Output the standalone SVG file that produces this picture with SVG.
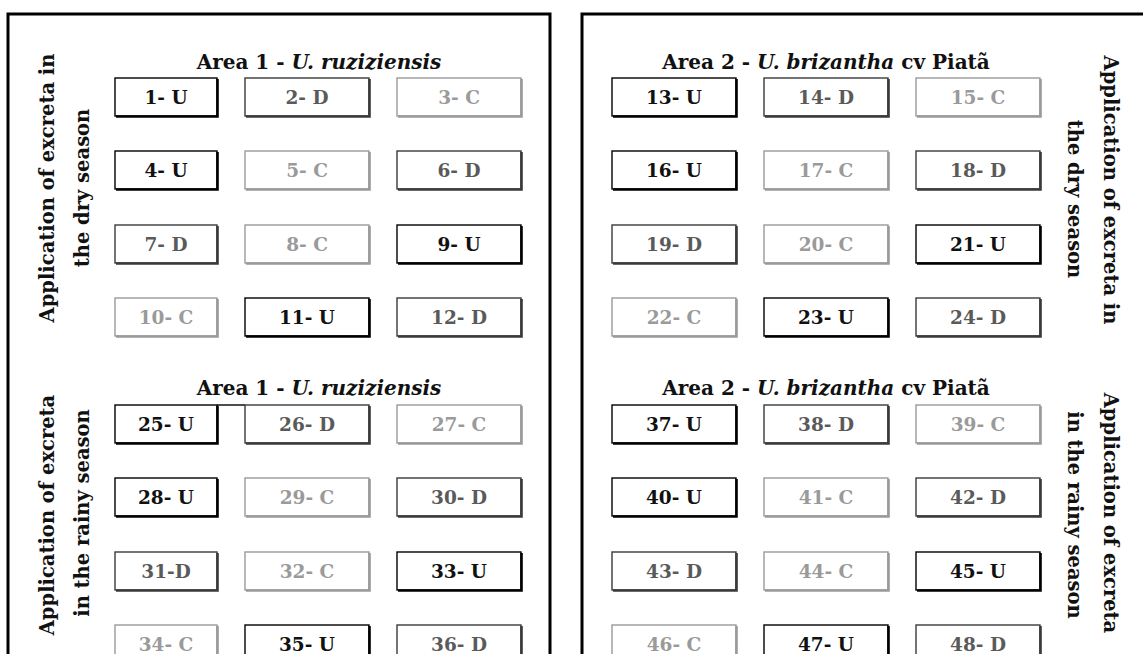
<svg xmlns="http://www.w3.org/2000/svg" width="1143" height="654" viewBox="0 0 1143 654">
<style>
text{font-family:"DejaVu Serif","Liberation Serif",serif;font-weight:bold}
.lbl{font-size:18.5px;text-anchor:middle}
.ttl{font-size:20px;text-anchor:middle;fill:#111}
.side{font-size:19.5px;text-anchor:middle;fill:#111}
.it{font-style:italic}
.frame{fill:none;stroke:#000;stroke-width:3}
.box{fill:#fff;stroke-width:1.4}
.sh{fill:none;stroke-width:2.6}
.U use{stroke:#000}.U text{fill:#111}
.D use{stroke:#3a3a3a}.D text{fill:#5a5a5a}
.C use{stroke:#9a9a9a}.C text{fill:#9a9a9a}
</style>
<defs>
<g id="bw"><rect class="box" x="0" y="0" width="102" height="38"/><path class="sh" d="M102.5,1V38.5H1"/></g>
<g id="bn"><rect class="box" x="0" y="0" width="124" height="38"/><path class="sh" d="M124.5,1V38.5H1"/></g>
</defs>
<rect x="0" y="0" width="1143" height="654" fill="#fff" stroke="none"/>
<g id="frames">
<path class="frame" d="M8,654V14H550V654"/>
<path class="frame" d="M582,654V14H1143"/>
</g>
<g id="titles">
<text class="ttl" x="319" y="69">Area 1 - <tspan class="it">U. ruziziensis</tspan></text>
<text class="ttl" x="826" y="69">Area 2 - <tspan class="it">U. brizantha</tspan> cv Piatã</text>
<text class="ttl" x="319" y="395">Area 1 - <tspan class="it">U. ruziziensis</tspan></text>
<text class="ttl" x="826" y="395">Area 2 - <tspan class="it">U. brizantha</tspan> cv Piatã</text>
</g>
<g id="side-labels">
<text class="side" transform="translate(54,188) rotate(-90)">Application of excreta in</text>
<text class="side" transform="translate(89,188) rotate(-90)">the dry season</text>
<text class="side" transform="translate(54,515) rotate(-90)">Application of excreta</text>
<text class="side" transform="translate(89,513) rotate(-90)">in the rainy season</text>
<text class="side" transform="translate(1104,190) rotate(90)">Application of excreta in</text>
<text class="side" transform="translate(1068,199) rotate(90)">the dry season</text>
<text class="side" transform="translate(1104,513) rotate(90)">Application of excreta</text>
<text class="side" transform="translate(1068,515) rotate(90)">in the rainy season</text>
</g>
<g id="connectors">
<line x1="217" y1="405" x2="245" y2="405" stroke="#000" stroke-width="1.4"/>
</g>
<g id="plots">
<g id="p1" class="U" transform="translate(115,78)"><use href="#bw"/><text class="lbl" x="51" y="26">1- U</text></g>
<g id="p2" class="D" transform="translate(245,78)"><use href="#bn"/><text class="lbl" x="62" y="26">2- D</text></g>
<g id="p3" class="C" transform="translate(397,78)"><use href="#bn"/><text class="lbl" x="62" y="26">3- C</text></g>
<g id="p4" class="U" transform="translate(115,151)"><use href="#bw"/><text class="lbl" x="51" y="26">4- U</text></g>
<g id="p5" class="C" transform="translate(245,151)"><use href="#bn"/><text class="lbl" x="62" y="26">5- C</text></g>
<g id="p6" class="D" transform="translate(397,151)"><use href="#bn"/><text class="lbl" x="62" y="26">6- D</text></g>
<g id="p7" class="D" transform="translate(115,225)"><use href="#bw"/><text class="lbl" x="51" y="26">7- D</text></g>
<g id="p8" class="C" transform="translate(245,225)"><use href="#bn"/><text class="lbl" x="62" y="26">8- C</text></g>
<g id="p9" class="U" transform="translate(397,225)"><use href="#bn"/><text class="lbl" x="62" y="26">9- U</text></g>
<g id="p10" class="C" transform="translate(115,298)"><use href="#bw"/><text class="lbl" x="51" y="26">10- C</text></g>
<g id="p11" class="U" transform="translate(245,298)"><use href="#bn"/><text class="lbl" x="62" y="26">11- U</text></g>
<g id="p12" class="D" transform="translate(397,298)"><use href="#bn"/><text class="lbl" x="62" y="26">12- D</text></g>

<g id="p25" class="U" transform="translate(115,405)"><use href="#bw"/><text class="lbl" x="51" y="26">25- U</text></g>
<g id="p26" class="D" transform="translate(245,405)"><use href="#bn"/><text class="lbl" x="62" y="26">26- D</text></g>
<g id="p27" class="C" transform="translate(397,405)"><use href="#bn"/><text class="lbl" x="62" y="26">27- C</text></g>
<g id="p28" class="U" transform="translate(115,478)"><use href="#bw"/><text class="lbl" x="51" y="26">28- U</text></g>
<g id="p29" class="C" transform="translate(245,478)"><use href="#bn"/><text class="lbl" x="62" y="26">29- C</text></g>
<g id="p30" class="D" transform="translate(397,478)"><use href="#bn"/><text class="lbl" x="62" y="26">30- D</text></g>
<g id="p31" class="D" transform="translate(115,552)"><use href="#bw"/><text class="lbl" x="51" y="26">31-D</text></g>
<g id="p32" class="C" transform="translate(245,552)"><use href="#bn"/><text class="lbl" x="62" y="26">32- C</text></g>
<g id="p33" class="U" transform="translate(397,552)"><use href="#bn"/><text class="lbl" x="62" y="26">33- U</text></g>
<g id="p34" class="C" transform="translate(115,625)"><use href="#bw"/><text class="lbl" x="51" y="26">34- C</text></g>
<g id="p35" class="U" transform="translate(245,625)"><use href="#bn"/><text class="lbl" x="62" y="26">35- U</text></g>
<g id="p36" class="D" transform="translate(397,625)"><use href="#bn"/><text class="lbl" x="62" y="26">36- D</text></g>

<g id="p13" class="U" transform="translate(612,78)"><use href="#bn"/><text class="lbl" x="62" y="26">13- U</text></g>
<g id="p14" class="D" transform="translate(764,78)"><use href="#bn"/><text class="lbl" x="62" y="26">14- D</text></g>
<g id="p15" class="C" transform="translate(916,78)"><use href="#bn"/><text class="lbl" x="62" y="26">15- C</text></g>
<g id="p16" class="U" transform="translate(612,151)"><use href="#bn"/><text class="lbl" x="62" y="26">16- U</text></g>
<g id="p17" class="C" transform="translate(764,151)"><use href="#bn"/><text class="lbl" x="62" y="26">17- C</text></g>
<g id="p18" class="D" transform="translate(916,151)"><use href="#bn"/><text class="lbl" x="62" y="26">18- D</text></g>
<g id="p19" class="D" transform="translate(612,225)"><use href="#bn"/><text class="lbl" x="62" y="26">19- D</text></g>
<g id="p20" class="C" transform="translate(764,225)"><use href="#bn"/><text class="lbl" x="62" y="26">20- C</text></g>
<g id="p21" class="U" transform="translate(916,225)"><use href="#bn"/><text class="lbl" x="62" y="26">21- U</text></g>
<g id="p22" class="C" transform="translate(612,298)"><use href="#bn"/><text class="lbl" x="62" y="26">22- C</text></g>
<g id="p23" class="U" transform="translate(764,298)"><use href="#bn"/><text class="lbl" x="62" y="26">23- U</text></g>
<g id="p24" class="D" transform="translate(916,298)"><use href="#bn"/><text class="lbl" x="62" y="26">24- D</text></g>

<g id="p37" class="U" transform="translate(612,405)"><use href="#bn"/><text class="lbl" x="62" y="26">37- U</text></g>
<g id="p38" class="D" transform="translate(764,405)"><use href="#bn"/><text class="lbl" x="62" y="26">38- D</text></g>
<g id="p39" class="C" transform="translate(916,405)"><use href="#bn"/><text class="lbl" x="62" y="26">39- C</text></g>
<g id="p40" class="U" transform="translate(612,478)"><use href="#bn"/><text class="lbl" x="62" y="26">40- U</text></g>
<g id="p41" class="C" transform="translate(764,478)"><use href="#bn"/><text class="lbl" x="62" y="26">41- C</text></g>
<g id="p42" class="D" transform="translate(916,478)"><use href="#bn"/><text class="lbl" x="62" y="26">42- D</text></g>
<g id="p43" class="D" transform="translate(612,552)"><use href="#bn"/><text class="lbl" x="62" y="26">43- D</text></g>
<g id="p44" class="C" transform="translate(764,552)"><use href="#bn"/><text class="lbl" x="62" y="26">44- C</text></g>
<g id="p45" class="U" transform="translate(916,552)"><use href="#bn"/><text class="lbl" x="62" y="26">45- U</text></g>
<g id="p46" class="C" transform="translate(612,625)"><use href="#bn"/><text class="lbl" x="62" y="26">46- C</text></g>
<g id="p47" class="U" transform="translate(764,625)"><use href="#bn"/><text class="lbl" x="62" y="26">47- U</text></g>
<g id="p48" class="D" transform="translate(916,625)"><use href="#bn"/><text class="lbl" x="62" y="26">48- D</text></g>
</g>
</svg>
